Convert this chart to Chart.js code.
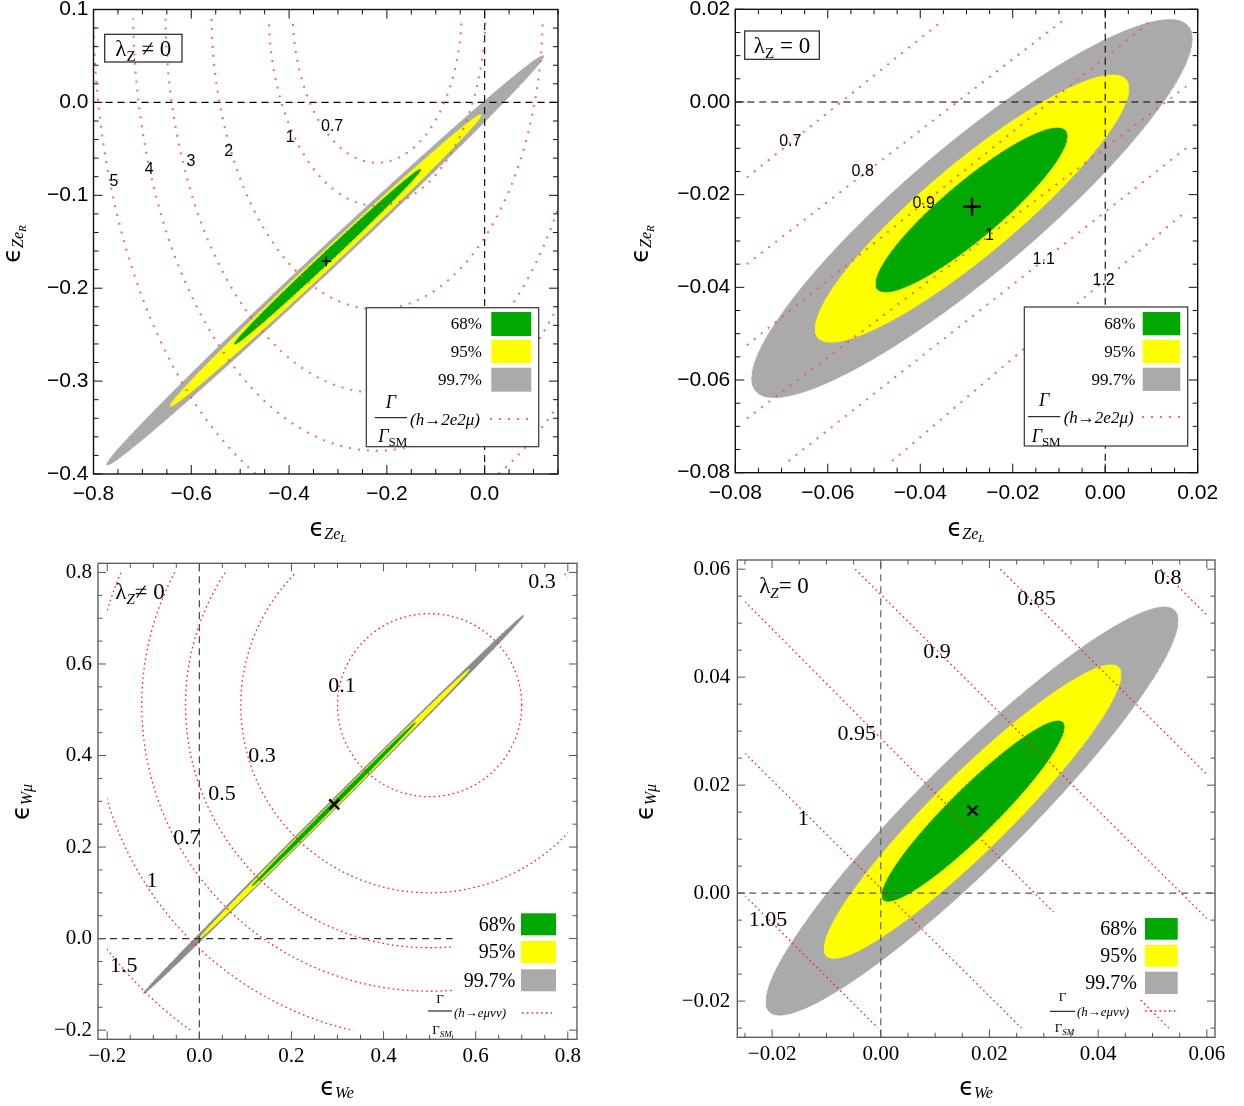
<!DOCTYPE html>
<html>
<head>
<meta charset="utf-8">
<script src="https://cdn.jsdelivr.net/npm/chart.js@4.4.1/dist/chart.umd.min.js"></script>
<style>
  html, body { margin: 0; padding: 0; background: #fff; }
  body { width: 1244px; height: 1106px; position: relative; overflow: hidden; }
  canvas { position: absolute; }
</style>
</head>
<body>
<canvas id="zeL"></canvas>
<canvas id="zeLzoom"></canvas>
<canvas id="wmu"></canvas>
<canvas id="wmuZoom"></canvas>
<script>
const SANS = '"Liberation Sans", Arial, sans-serif';
const SERIF = '"Liberation Serif", "Times New Roman", serif';
const EPS = '"DejaVu Sans", sans-serif';

// shared legend entries
const confLabels = ['68%', '95%', '99.7%'];
const confSwatches = ['#00a800', '#ffff00', '#aaaaaa'];

// ---------- eps_ZeL vs eps_ZeR, lambda_Z != 0 ----------
const p1XTicks = [-0.8, -0.6, -0.4, -0.2, 0.0];
const p1XLabels = ['−0.8', '−0.6', '−0.4', '−0.2', '0.0'];
const p1YTicks = [-0.4, -0.3, -0.2, -0.1, 0.0, 0.1];
const p1YLabels = ['−0.4', '−0.3', '−0.2', '−0.1', '0.0', '0.1'];
// regions: [centre x, centre y, half x-extent, half y-extent, half chord through centre]  (99.7, 95, 68)
const p1Regions = [
  [-0.326, -0.170, 0.4465, 0.2203, 0.0337],
  [-0.325, -0.170, 0.3180, 0.1570, 0.0245],
  [-0.321, -0.166, 0.1905, 0.0942, 0.0153]
];
const p1Best = [-0.324, -0.171];
const p1Levels = ['0.7', '1', '2', '3', '4', '5'];
const p1LevelCentre = [-0.22, 0.10];
const p1LevelRx = [0.173, 0.222, 0.339, 0.433, 0.499, 0.580];
const p1LevelRy = [0.165, 0.2115, 0.3227, 0.4125, 0.475, 0.553];
const p1LabelX = [-0.312, -0.3975, -0.5235, -0.6006, -0.686, -0.758];
const p1LabelY = [-0.026, -0.038, -0.053, -0.0638, -0.072, -0.0857];

// ---------- eps_ZeL vs eps_ZeR, lambda_Z = 0 ----------
const p2XTicks = [-0.08, -0.06, -0.04, -0.02, 0.0, 0.02];
const p2XLabels = ['−0.08', '−0.06', '−0.04', '−0.02', '0.00', '0.02'];
const p2YTicks = [-0.08, -0.06, -0.04, -0.02, 0.0, 0.02];
const p2YLabels = ['−0.08', '−0.06', '−0.04', '−0.02', '0.00', '0.02'];
const p2Regions = [
  [-0.0288, -0.0230, 0.0476, 0.0408, 0.0209],
  [-0.0288, -0.0230, 0.0339, 0.02885, 0.0149],
  [-0.0289, -0.0233, 0.02067, 0.0177, 0.0091]
];
const p2Best = [-0.0288, -0.0226];
const p2Levels = ['0.7', '0.8', '0.9', '1', '1.1', '1.2'];
const p2LineFrom = [[-0.0775, -0.0163], [-0.0775, -0.0350], [-0.0775, -0.0525], [-0.0775, -0.0683], [-0.0685, -0.0775], [-0.0461, -0.0775]];
const p2LineTo = [[-0.0321, 0.02], [-0.0060, 0.02], [0.0130, 0.02], [0.02, 0.0052], [0.02, -0.0080], [0.02, -0.0214]];
const p2LabelX = [-0.0681, -0.05245, -0.03926, -0.02506, -0.01331, -0.00034];
const p2LabelY = [-0.00864, -0.01511, -0.02187, -0.02878, -0.03396, -0.03864];

// ---------- eps_We vs eps_Wmu, lambda_Z != 0 ----------
const p3XTicks = [-0.2, 0.0, 0.2, 0.4, 0.6, 0.8];
const p3XLabels = ['−0.2', '0.0', '0.2', '0.4', '0.6', '0.8'];
const p3YTicks = [-0.2, 0.0, 0.2, 0.4, 0.6, 0.8];
const p3YLabels = ['−0.2', '0.0', '0.2', '0.4', '0.6', '0.8'];
const p3Regions = [
  [0.2917, 0.2932, 0.4125, 0.4130, 0.0137],
  [0.2930, 0.2940, 0.2930, 0.2940, 0.0097],
  [0.2917, 0.2932, 0.1770, 0.1784, 0.0060]
];
const p3Best = [0.293, 0.2933];
const p3LevelCentre = [0.50, 0.51];
const p3LevelR = [0.20, 0.41, 0.53, 0.625, 0.73, 0.88];
const p3LabelText = ['0.3', '0.1', '0.3', '0.5', '0.7', '1', '1.5'];
const p3LabelX = [0.744, 0.3097, 0.136, 0.0492, -0.0268, -0.1028, -0.1643];
const p3LabelY = [0.7777, 0.5519, 0.399, 0.3152, 0.2184, 0.1259, -0.060];

// ---------- eps_We vs eps_Wmu, lambda_Z = 0 ----------
const p4XTicks = [-0.02, 0.0, 0.02, 0.04, 0.06];
const p4XLabels = ['−0.02', '0.00', '0.02', '0.04', '0.06'];
const p4YTicks = [-0.02, 0.0, 0.02, 0.04, 0.06];
const p4YLabels = ['−0.02', '0.00', '0.02', '0.04', '0.06'];
const p4Regions = [
  [0.0168, 0.0152, 0.0379, 0.0378, 0.0136],
  [0.0169, 0.0151, 0.0273, 0.0272, 0.0098],
  [0.0170, 0.0152, 0.01675, 0.0167, 0.0060]
];
const p4Best = [0.0169, 0.0153];
const p4Levels = ['0.8', '0.85', '0.9', '0.95', '1', '1.05'];
const p4LineFrom = [[0.0515, 0.06], [0.022, 0.06], [-0.0047, 0.06], [-0.025, 0.054], [-0.025, 0.0259], [-0.025, -0.0005]];
const p4LineTo = [[0.06, 0.0515], [0.06, 0.022], [0.06, -0.0047], [0.053, -0.025], [0.0259, -0.025], [-0.0005, -0.025]];
const p4LabelX = [0.0528, 0.02866, 0.01033, -0.00443, -0.01427, -0.02073];
const p4LabelY = [0.0583, 0.0544, 0.04455, 0.02945, 0.01374, -0.00505];

// outline of a tilted confidence ellipse
function outline(r) {
  const [cx, cy, hx, hy, hw] = r;
  const phi = Math.asin(Math.min(1, hw / hx));
  const pts = [];
  for (let i = 0; i <= 720; i++) {
    const t = i * Math.PI / 360;
    pts.push({ x: cx + hx * Math.cos(t), y: cy + hy * Math.cos(t - phi) });
  }
  return pts;
}

function ring(c, rx, ry) {
  const pts = [];
  for (let i = 0; i <= 360; i++) {
    const t = i * Math.PI / 180;
    pts.push({ x: c[0] + rx * Math.cos(t), y: c[1] + ry * Math.sin(t) });
  }
  return pts;
}

function segment(a, b) {
  return [{ x: a[0], y: a[1] }, { x: b[0], y: b[1] }];
}

function range(min, max, step) {
  const out = [];
  const k0 = Math.ceil(min / step - 1e-6), k1 = Math.floor(max / step + 1e-6);
  for (let k = k0; k <= k1; k++) out.push(+(k * step).toFixed(6));
  return out;
}

// text made of pieces with their own fonts and baseline shifts, centred on x
function drawRich(ctx, parts, x, y, rotate) {
  ctx.save();
  ctx.translate(x, y);
  if (rotate) ctx.rotate(-Math.PI / 2);
  ctx.textAlign = 'left';
  ctx.textBaseline = 'alphabetic';
  ctx.fillStyle = '#000';
  let w = 0;
  parts.forEach(p => { ctx.font = p.f; w += ctx.measureText(p.t).width; });
  let cx = -w / 2;
  parts.forEach(p => {
    ctx.font = p.f;
    ctx.fillText(p.t, cx, p.dy || 0);
    cx += ctx.measureText(p.t).width;
  });
  ctx.restore();
}

function strokeLine(ctx, x0, y0, x1, y1) {
  ctx.beginPath();
  ctx.moveTo(x0, y0);
  ctx.lineTo(x1, y1);
  ctx.stroke();
}

const panelDecor = {
  id: 'panelDecor',
  afterDatasetsDraw(chart, args, o) {
    const ctx = chart.ctx, a = chart.chartArea;
    const sx = chart.scales.x, sy = chart.scales.y;
    const ox = o.box[0], oy = o.box[1];
    ctx.save();

    // white backing behind the legend entries
    if (o.cover) {
      const x0 = sx.getPixelForValue(o.cover[0]), y0 = sy.getPixelForValue(o.cover[1]);
      const x1 = Math.min(sx.getPixelForValue(o.cover[2]), a.right - 1);
      const y1 = Math.min(sy.getPixelForValue(o.cover[3]), a.bottom - 1);
      ctx.fillStyle = '#fff';
      ctx.fillRect(x0, y0, x1 - x0, y1 - y0);
    }

    // contour values
    ctx.fillStyle = '#000';
    ctx.textAlign = 'center';
    ctx.textBaseline = 'middle';
    ctx.font = o.labelFont;
    o.labelText.forEach((t, i) => {
      ctx.fillText(t, sx.getPixelForValue(o.labelX[i]), sy.getPixelForValue(o.labelY[i]));
    });

    // frame with inward ticks on all four sides
    ctx.strokeStyle = o.frameColour;
    ctx.lineWidth = o.frameWidth;
    ctx.strokeRect(a.left, a.top, a.right - a.left, a.bottom - a.top);
    ctx.lineWidth = 1;
    const isMaj = (list, v) => list.some(m => Math.abs(m - v) < 1e-6);
    range(sx.min, sx.max, o.xMinor).forEach(v => {
      const len = isMaj(o.xTicks, v) ? o.tickLen[0] : o.tickLen[1];
      const px = sx.getPixelForValue(v);
      strokeLine(ctx, px, a.bottom, px, a.bottom - len);
      strokeLine(ctx, px, a.top, px, a.top + len);
    });
    range(sy.min, sy.max, o.yMinor).forEach(v => {
      const len = isMaj(o.yTicks, v) ? o.tickLen[0] : o.tickLen[1];
      const py = sy.getPixelForValue(v);
      strokeLine(ctx, a.left, py, a.left + len, py);
      strokeLine(ctx, a.right, py, a.right - len, py);
    });

    // lambda_Z tag
    const lz = o.lambda;
    if (lz.frame) {
      ctx.strokeStyle = '#222';
      ctx.lineWidth = 1.2;
      ctx.strokeRect(lz.frame[0] - ox, lz.frame[1] - oy, lz.frame[2] - lz.frame[0], lz.frame[3] - lz.frame[1]);
    }
    drawRich(ctx, [
      { t: 'λ', f: '23px ' + SERIF },
      { t: 'Z', f: lz.subFont, dy: 5 },
      { t: lz.rest, f: '23px ' + SERIF }
    ], lz.x - ox, lz.base - oy);

    // legend
    const L = o.legend;
    if (L.frame) {
      ctx.fillStyle = '#fff';
      ctx.fillRect(L.frame[0] - ox, L.frame[1] - oy, L.frame[2] - L.frame[0], L.frame[3] - L.frame[1]);
      ctx.strokeStyle = '#333';
      ctx.lineWidth = 1.2;
      ctx.strokeRect(L.frame[0] - ox, L.frame[1] - oy, L.frame[2] - L.frame[0], L.frame[3] - L.frame[1]);
    }
    L.rows.forEach((r, i) => {
      ctx.fillStyle = confSwatches[i];
      ctx.fillRect(L.swX[0] - ox, r[0] - oy, L.swX[1] - L.swX[0], r[1] - r[0]);
      ctx.fillStyle = '#000';
      ctx.font = L.font;
      ctx.textAlign = 'right';
      ctx.textBaseline = 'middle';
      ctx.fillText(confLabels[i], L.textRight - ox, (r[0] + r[1]) / 2 + 1 - oy);
    });
    const f = L.frac;
    ctx.strokeStyle = '#000';
    ctx.lineWidth = 1;
    strokeLine(ctx, f.bar[0] - ox, f.bar[2] - oy, f.bar[1] - ox, f.bar[2] - oy);
    const mid = (f.bar[0] + f.bar[1]) / 2 - ox;
    drawRich(ctx, [{ t: 'Γ', f: f.gFont }], mid, f.numBase - oy);
    drawRich(ctx, [{ t: 'Γ', f: f.gFont }, { t: 'SM', f: f.smFont, dy: f.smDy }], mid + 2, f.denBase - oy);
    ctx.font = f.tFont;
    ctx.textAlign = 'left';
    ctx.textBaseline = 'alphabetic';
    ctx.fillStyle = '#000';
    ctx.fillText(f.text, f.textX - ox, f.textBase - oy);
    ctx.strokeStyle = o.dots.colour;
    ctx.lineWidth = o.dots.width;
    ctx.setLineDash(o.dots.dash);
    strokeLine(ctx, f.sample[0] - ox, f.sample[2] - oy, f.sample[1] - ox, f.sample[2] - oy);
    ctx.setLineDash([]);

    // axis titles
    o.titles.forEach(t => drawRich(ctx, t.parts, t.x - ox, t.y - oy, t.rotate));

    ctx.restore();
  }
};

function buildPanel(cfg) {
  const cv = document.getElementById(cfg.id);
  const [bx, by, bw, bh] = cfg.box;
  cv.width = bw;
  cv.height = bh;
  cv.style.left = bx + 'px';
  cv.style.top = by + 'px';
  const [al, at, ar, ab] = cfg.area;
  const yWidth = al - bx;
  const xHeight = by + bh - ab;

  const datasets = [];
  cfg.regions.forEach((r, i) => {
    datasets.push({
      data: outline(r), showLine: true, fill: 'shape',
      backgroundColor: cfg.regionColours[i], borderColor: cfg.regionColours[i],
      borderWidth: 0.6, pointRadius: 0, order: 5 - i
    });
  });
  const xr = cfg.xRange, yr = cfg.yRange;
  [segment([0, yr[0]], [0, yr[1]]), segment([xr[0], 0], [xr[1], 0])].forEach(d => {
    datasets.push({
      data: d, showLine: true, borderColor: cfg.zeroColour, borderWidth: 1.1,
      borderDash: [7, 5], pointRadius: 0, order: 2
    });
  });
  cfg.contours.forEach(d => {
    datasets.push({
      data: d, showLine: true, borderColor: cfg.dots.colour, borderWidth: cfg.dots.width,
      borderDash: cfg.dots.dash, pointRadius: 0, order: 1, clip: cfg.contourClip
    });
  });
  datasets.push({
    data: [{ x: cfg.best[0], y: cfg.best[1] }], showLine: false,
    pointStyle: cfg.bestStyle.shape, pointRadius: cfg.bestStyle.r, pointBorderWidth: cfg.bestStyle.w,
    borderColor: '#000', backgroundColor: '#000', order: 0
  });

  const tickFont = { family: cfg.tickFamily, size: 21 };
  return new Chart(cv, {
    type: 'scatter',
    data: { datasets },
    options: {
      responsive: false,
      animation: false,
      devicePixelRatio: 1,
      layout: { padding: { left: 0, top: at - by, right: bx + bw - ar, bottom: 0 } },
      plugins: {
        legend: { display: false },
        tooltip: { enabled: false },
        panelDecor: cfg
      },
      scales: {
        x: {
          type: 'linear', min: xr[0], max: xr[1],
          grid: { display: false, drawTicks: false }, border: { display: false },
          afterBuildTicks: s => { s.ticks = cfg.xTicks.map(v => ({ value: v })); },
          afterFit: s => { s.height = xHeight; },
          ticks: {
            autoSkip: false, maxRotation: 0, padding: cfg.xPad, color: '#000', font: tickFont,
            callback: (v, i) => cfg.xLabels[i]
          }
        },
        y: {
          type: 'linear', min: yr[0], max: yr[1],
          grid: { display: false, drawTicks: false }, border: { display: false },
          afterBuildTicks: s => { s.ticks = cfg.yTicks.map(v => ({ value: v })); },
          afterFit: s => { s.width = yWidth; },
          ticks: {
            autoSkip: false, padding: cfg.yPad, color: '#000', font: tickFont,
            callback: (v, i) => cfg.yLabels[i]
          }
        }
      }
    },
    plugins: [panelDecor]
  });
}

const topDots = { colour: 'rgba(250,80,80,0.85)', width: 2, dash: [2, 7] };
const lowDots = { colour: '#ff2020', width: 1.3, dash: [1.6, 3.2] };

function epsTitle(sub, subsub, x, y, rotate) {
  const parts = [
    { t: 'ϵ', f: '24px ' + EPS },
    { t: sub, f: 'italic 16px ' + SERIF, dy: 3 }
  ];
  if (subsub) parts.push({ t: subsub, f: 'italic 11px ' + SERIF, dy: 6 });
  return { parts, x, y, rotate };
}

buildPanel({
  id: 'zeL', box: [0, -20, 600, 575], area: [93.5, 9.5, 558, 474],
  xRange: [-0.8, 0.15], yRange: [-0.4, 0.1],
  xTicks: p1XTicks, xLabels: p1XLabels, yTicks: p1YTicks, yLabels: p1YLabels,
  xMinor: 0.05, yMinor: 0.02, tickLen: [9, 5], tickFamily: SANS, xPad: 8, yPad: 5,
  frameColour: '#111', frameWidth: 1.4, zeroColour: '#000',
  regions: p1Regions, regionColours: ['#aaaaaa', '#ffff00', '#00a800'],
  best: p1Best, bestStyle: { shape: 'cross', r: 5, w: 1.5 },
  contours: p1Levels.map((l, i) => ring(p1LevelCentre, p1LevelRx[i], p1LevelRy[i])),
  contourClip: { left: 0, top: -9, right: 0, bottom: 0 },
  dots: topDots,
  labelText: p1Levels, labelX: p1LabelX, labelY: p1LabelY, labelFont: '16px ' + SANS,
  lambda: { frame: [104.7, 34.3, 182, 62], x: 143.3, base: 56, rest: ' ≠ 0', subFont: '15px ' + SERIF },
  legend: {
    frame: [366.3, 307.7, 538.7, 446.7], textRight: 482, swX: [491.3, 531.3],
    rows: [[312, 336], [340, 363.3], [367.7, 391.7]], font: '17px ' + SERIF,
    frac: {
      bar: [374.7, 407, 417.7], numBase: 407.5, denBase: 442, gFont: 'italic 18px ' + SERIF,
      smFont: '13px ' + SERIF, smDy: 4, text: '(h→2e2μ)', textX: 410, textBase: 424.5,
      tFont: 'italic 17px ' + SERIF, sample: [490, 529, 419]
    }
  },
  titles: [epsTitle('Ze', 'L', 328, 536, false), epsTitle('Ze', 'R', 20, 244, true)]
});

buildPanel({
  id: 'zeLzoom', box: [615, -20, 629, 575], area: [735.3, 9.3, 1197.7, 472.7],
  xRange: [-0.08, 0.02], yRange: [-0.08, 0.02],
  xTicks: p2XTicks, xLabels: p2XLabels, yTicks: p2YTicks, yLabels: p2YLabels,
  xMinor: 0.005, yMinor: 0.005, tickLen: [9, 5], tickFamily: SANS, xPad: 8, yPad: 5,
  frameColour: '#111', frameWidth: 1.4, zeroColour: '#000',
  regions: p2Regions, regionColours: ['#aaaaaa', '#ffff00', '#00a800'],
  best: p2Best, bestStyle: { shape: 'cross', r: 9, w: 2.4 },
  contours: p2Levels.map((l, i) => segment(p2LineFrom[i], p2LineTo[i])),
  contourClip: -11,
  dots: topDots,
  labelText: p2Levels, labelX: p2LabelX, labelY: p2LabelY, labelFont: '16px ' + SANS,
  lambda: { frame: [744.7, 31, 819.3, 59.3], x: 782, base: 53, rest: ' = 0', subFont: '15px ' + SERIF },
  legend: {
    frame: [1024.3, 307, 1187.7, 446], textRight: 1135.3, swX: [1142.7, 1180.3],
    rows: [[312, 335.3], [340, 363.3], [367.7, 391]], font: '17px ' + SERIF,
    frac: {
      bar: [1028, 1060.3, 416.7], numBase: 406, denBase: 442, gFont: 'italic 18px ' + SERIF,
      smFont: '13px ' + SERIF, smDy: 4, text: '(h→2e2μ)', textX: 1063.7, textBase: 423,
      tFont: 'italic 17px ' + SERIF, sample: [1142, 1180, 417]
    }
  },
  titles: [epsTitle('Ze', 'L', 966, 536, false), epsTitle('Ze', 'R', 648, 244, true)]
});

buildPanel({
  id: 'wmu', box: [0, 535, 615, 571], area: [98, 563.3, 577, 1039.3],
  xRange: [-0.22, 0.82], yRange: [-0.22, 0.82],
  xTicks: p3XTicks, xLabels: p3XLabels, yTicks: p3YTicks, yLabels: p3YLabels,
  xMinor: 0.05, yMinor: 0.05, tickLen: [8, 4.5], tickFamily: SERIF, xPad: 5, yPad: 6,
  frameColour: '#555', frameWidth: 1.3, zeroColour: '#333',
  regions: p3Regions, regionColours: ['#8c8c8c', '#ffff00', '#00a800'],
  best: p3Best, bestStyle: { shape: 'crossRot', r: 7, w: 2.4 },
  contours: p3LevelR.map(r => ring(p3LevelCentre, r, r)),
  contourClip: -9,
  dots: lowDots,
  labelText: p3LabelText, labelX: p3LabelX, labelY: p3LabelY, labelFont: '22px ' + SERIF,
  cover: [0.55, 0.095, 0.82, -0.22],
  lambda: { x: 140, base: 599, rest: '≠ 0', subFont: 'italic 15px ' + SERIF },
  legend: {
    textRight: 515.3, swX: [521, 556],
    rows: [[913.3, 935.3], [941, 963.3], [969.3, 991.3]], font: '20px ' + SERIF,
    frac: {
      bar: [428, 452, 1011], numBase: 1002.5, denBase: 1034, gFont: '13px ' + SERIF,
      smFont: 'italic 9px ' + SERIF, smDy: 3, text: '(h→eμνν)', textX: 454, textBase: 1017,
      tFont: 'italic 13px ' + SERIF, sample: [522, 552, 1013]
    }
  },
  titles: [epsTitle('We', null, 337, 1095, false), epsTitle('Wμ', null, 29, 802, true)]
});

buildPanel({
  id: 'wmuZoom', box: [615, 535, 629, 571], area: [737.3, 560, 1215, 1037.3],
  xRange: [-0.0264, 0.0615], yRange: [-0.0267, 0.0617],
  xTicks: p4XTicks, xLabels: p4XLabels, yTicks: p4YTicks, yLabels: p4YLabels,
  xMinor: 0.005, yMinor: 0.005, tickLen: [8, 4.5], tickFamily: SERIF, xPad: 5, yPad: 7,
  frameColour: '#555', frameWidth: 1.3, zeroColour: '#555',
  regions: p4Regions, regionColours: ['#aaaaaa', '#ffff00', '#00a800'],
  best: p4Best, bestStyle: { shape: 'crossRot', r: 7, w: 2.4 },
  contours: p4Levels.map((l, i) => segment(p4LineFrom[i], p4LineTo[i])),
  contourClip: -8,
  dots: lowDots,
  labelText: p4Levels, labelX: p4LabelX, labelY: p4LabelY, labelFont: '22px ' + SERIF,
  cover: [0.0303, -0.0035, 0.0556, -0.0194],
  lambda: { x: 784, base: 593, rest: '= 0', subFont: 'italic 15px ' + SERIF },
  legend: {
    textRight: 1137, swX: [1145, 1177.7],
    rows: [[918, 939.7], [945, 966.7], [971.7, 994]], font: '20px ' + SERIF,
    frac: {
      bar: [1050, 1075, 1011.3], numBase: 1001, denBase: 1032, gFont: '13px ' + SERIF,
      smFont: 'italic 9px ' + SERIF, smDy: 3, text: '(h→eμνν)', textX: 1077, textBase: 1016,
      tFont: 'italic 13px ' + SERIF, sample: [1145, 1177, 1011]
    }
  },
  titles: [epsTitle('We', null, 976, 1095, false), epsTitle('Wμ', null, 653, 802, true)]
});
</script>
</body>
</html>
